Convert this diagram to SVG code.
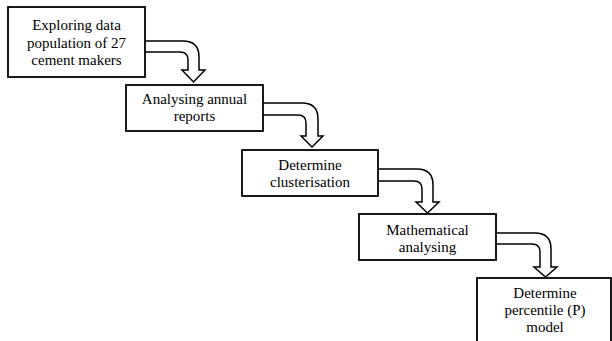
<svg xmlns="http://www.w3.org/2000/svg" width="612" height="341" viewBox="0 0 612 341">
<style>
.box{fill:#fff;stroke:#000;stroke-width:1.8}
.arr{fill:#fff;stroke:#000;stroke-width:1.5;stroke-linejoin:miter}
.t{font-family:'Liberation Serif','Times New Roman',Times,'DejaVu Serif',serif;font-size:15px;fill:#000;text-anchor:middle}
</style>
<rect width="612" height="341" fill="#fff"/>
<g id="connectors">
<path class="arr" d="M145,41 H183 Q199,41 199,57 V70 H205 L193.5,82 L182,70 H188 V60 Q188,52 180,52 H145"/>
<path class="arr" d="M263,103 H302 Q318,103 318,119 V136 H323 L312,147 L301,136 H306 V123 Q306,115 298,115 H263"/>
<path class="arr" d="M378,169 H417 Q433,169 433,185 V202 H439 L427.5,213 L416,202 H422 V189 Q422,181 414,181 H378"/>
<path class="arr" d="M496,233 H535 Q551,233 551,249 V267 H557 L545.5,277 L534,267 H540 V252 Q540,244 532,244 H496"/>
</g>
<g id="n1" class="t"><rect class="box" x="8" y="7" width="137" height="70"/>
<text x="76.5" y="30">Exploring data</text><text x="76.5" y="47.5">population of 27</text><text x="76.5" y="65">cement makers</text></g>
<g id="n2" class="t"><rect class="box" x="126" y="85" width="137" height="46"/>
<text x="194.5" y="104">Analysing annual</text><text x="194.5" y="121">reports</text></g>
<g id="n3" class="t"><rect class="box" x="242" y="150" width="136" height="46"/>
<text x="310" y="170">Determine</text><text x="310" y="187">clusterisation</text></g>
<g id="n4" class="t"><rect class="box" x="359" y="214" width="137" height="46"/>
<text x="427.5" y="235">Mathematical</text><text x="427.5" y="252">analysing</text></g>
<g id="n5" class="t"><rect class="box" x="477" y="278" width="134" height="80"/>
<text x="545" y="298">Determine</text><text x="545" y="315">percentile (P)</text><text x="545" y="332">model</text></g>
</svg>
